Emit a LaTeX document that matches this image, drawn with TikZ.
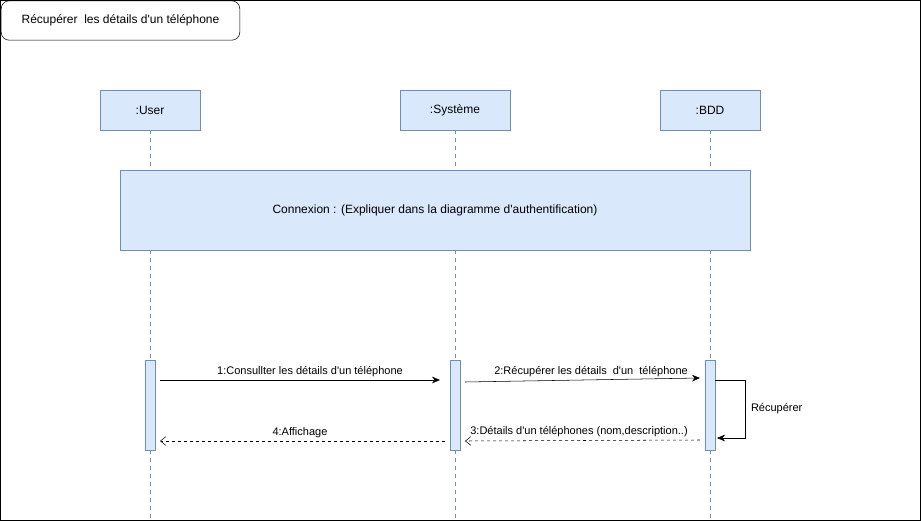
\documentclass[tikz,border=0pt]{standalone}
\usepackage{fontspec}
\setmainfont{Liberation Sans}
\usetikzlibrary{arrows.meta}

\definecolor{boxfill}{HTML}{DAE8FC}
\definecolor{boxline}{HTML}{6C8EBF}

\begin{document}
\begin{tikzpicture}[
            x = 0.75pt, y = -0.75pt, % one unit per pixel
            > = {Stealth[length=6pt,width=5pt]}, % arrow head style
            every node/.style = {font=\fontsize{9}{11}\selectfont},
        ]

        \tikzstyle{head}=[
            draw = boxline,
            fill = boxfill,
            minimum width = 75pt,
            minimum height = 30pt,
            inner sep = 0pt
        ]
        \tikzstyle{act}=[
            draw = boxline,
            fill = boxfill,
            minimum width = 7.5pt,
            minimum height = 67.5pt,
            inner sep = 0pt
        ]
        \tikzstyle{msg}=[above, yshift = -1pt, font = \fontsize{8.25}{10}\selectfont]
        \tikzstyle{lifeline}=[draw = boxline, dashed, dash pattern = on 3pt off 3pt]
        \tikzstyle{reply}=[dashed, dash pattern = on 2.25pt off 2.25pt, -{Straight Barb[length=4pt,width=6.5pt]}]

  \useasboundingbox (0,0) rectangle (921,521);
  \draw (0.5,0.5) rectangle (920,520);

  % title
  \node[draw, rounded corners = 6pt, minimum width = 179pt, minimum height = 29.5pt, inner sep = 0pt] (title) at (120.5,20.5) {Récupérer~ les détails d\textquotesingle un téléphone};

  % lifelines
  \node[head] (user) at (150,110) {:User};
  \node[head, minimum width = 82.5pt] (sys) at (455,110) {:Système};
  \node[head] (bdd) at (710,110) {:BDD};

  \coordinate (uEnd) at (150,520);
  \coordinate (sEnd) at (455,520);
  \coordinate (bEnd) at (710,520);
  \path[lifeline] (user) -- (uEnd);
  \path[lifeline] (sys) -- (sEnd);
  \path[lifeline] (bdd) -- (bEnd);

  \node[head, minimum width = 472.5pt, minimum height = 60pt] (cnx) at (435,210) {Connexion : (Expliquer dans la diagramme d\textquotesingle authentification)};

  \node[act] (actU) at (150,405) {};
  \node[act] (actS) at (455,405) {};
  \node[act] (actB) at (710,405) {};

  % messages
  \coordinate (m1a) at (160,380);
  \coordinate (m1b) at (440,380);
  \draw[->] (m1a) -- node[msg, xshift = 7.5pt] {1:Consullter les détails d\textquotesingle un téléphone} (m1b);

  \coordinate (m2a) at (465,382);
  \coordinate (m2b) at (700,378);
  \draw[->] (m2a) -- node[msg, xshift = 6.4pt] {2:Récupérer les détails~ d\textquotesingle un~ téléphone} (m2b);

  \coordinate (selfA) at (715,380);
  \coordinate (selfB) at (717,438);
  \draw[->] (selfA) -- (745,380) -- node[right, xshift = 1pt, font = \fontsize{8.25}{10}\selectfont] {Récupérer} (745,438) -- (selfB);

  \coordinate (m3a) at (700,440);
  \coordinate (m3b) at (465,441);
  \draw[reply] (m3a) -- node[msg, xshift = -2.6pt] {3:Détails d\textquotesingle un téléphones (nom,description..)} (m3b);

  \coordinate (m4a) at (445,441);
  \coordinate (m4b) at (160,441);
  \draw[reply] (m4a) -- node[msg, xshift = -1.9pt] {4:Affichage} (m4b);

\end{tikzpicture}
\end{document}
